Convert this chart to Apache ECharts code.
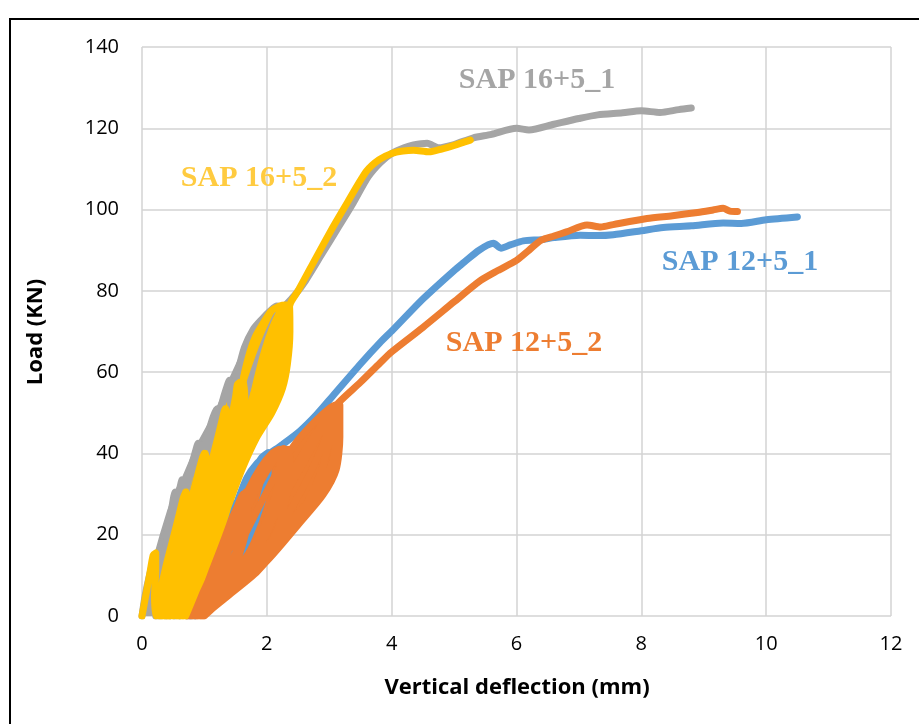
<!DOCTYPE html>
<html><head><meta charset="utf-8">
<script src="https://cdn.jsdelivr.net/npm/echarts@6/dist/echarts.min.js"></script>
<style>html,body{margin:0;padding:0;background:#fff}#c{width:919px;height:724px}</style>
</head><body><div id="c"></div><script>
// Axis ticks
const xTicks = [0, 2, 4, 6, 8, 10, 12];
const yTicks = [0, 20, 40, 60, 80, 100, 120, 140];
const xTitle = 'Vertical deflection (mm)';
const yTitle = 'Load (KN)';
const seriesNames = ['SAP 12+5_1', 'SAP 12+5_2', 'SAP 16+5_1', 'SAP 16+5_2'];

// SAP 12+5_1 (deflection mm, load kN)
const sap12_1 = [
 [0.72,0],[0.88,6],[1.02,11],[1.18,17],[1.34,23],[1.48,27.5],[1.52,28],[1.5,22],[1.4,15],[1.2,7],[0.9,1],[0.78,0],
 [0.98,8],[1.18,15],[1.38,22],[1.52,27],[1.66,32],[1.8,36],[1.92,39],[2.02,40.2],[2.02,35],[1.92,28],[1.7,19],[1.3,7],[0.85,0],
 [1.05,8],[1.28,17],[1.5,27],[1.68,34],[1.84,37.5],[2.0,39.5],[2.25,42.2],[2.53,45.5],[2.8,49.6],[3.06,54.2],
 [3.5,62],[3.81,67.2],[4.02,70.4],[4.5,78],[5.0,85],[5.15,86.9],[5.4,90],[5.63,91.7],[5.75,90.5],[5.9,91.3],[6.11,92.3],
 [6.4,92.6],[6.6,93.1],[7.02,93.7],[7.3,93.6],[7.55,93.8],[8.0,94.8],[8.35,95.6],[8.8,96],[9.31,96.7],[9.6,96.6],[10.0,97.5],[10.5,98.2]
];

// SAP 12+5_2
const sap12_2 = [
 [0.72,0],[0.9,6],[1.08,12],[1.22,17],[1.3,20],[1.32,15],[1.22,9],[1.0,3],[0.76,0],
 [0.95,7],[1.15,14],[1.35,21],[1.5,26],[1.62,30],[1.64,25],[1.55,18],[1.35,10],[1.05,3],[0.8,0],
 [1.0,7],[1.2,14],[1.4,21],[1.56,27],[1.66,30.5],[1.7,25],[1.62,18],[1.42,10],[1.1,3],[0.82,0],
 [1.05,8],[1.28,16],[1.5,24],[1.7,31],[1.9,36.5],[2.08,40],[2.2,41],[2.22,36],[2.12,29],[1.92,21],[1.6,12],[1.22,4],[0.86,0],
 [1.1,8],[1.35,16.5],[1.58,25],[1.8,32],[2.0,37.5],[2.15,40.3],[2.27,41.2],[2.3,36],[2.22,29],[2.02,21],[1.68,12],[1.28,4.5],[0.88,0],
 [1.12,8],[1.4,16.5],[1.66,25.5],[1.9,33],[2.1,38],[2.25,40.5],[2.34,41],[2.38,35.5],[2.3,28.5],[2.15,20.5],[1.78,12],[1.34,4.8],[0.9,0],
 [1.22,8],[1.55,17],[1.88,27],[2.2,36.5],[2.5,43.3],[2.8,48.3],[3.02,51.3],[3.1,52],[3.12,45],[3.05,38],[2.82,31],[2.45,24.5],[2.05,17],[1.62,10],[1.22,4],[0.93,0],
 [1.25,6],[1.6,13],[1.98,22],[2.3,30],[2.58,37.5],[2.83,44.5],[3.03,50],[3.13,52],[3.15,44.5],[3.08,37],[2.88,30.5],[2.55,24],[2.2,17.5],[1.75,10.5],[1.3,4.2],[0.96,0],
 [1.3,5],[1.7,11],[2.1,19],[2.45,28],[2.72,36],[2.92,43],[3.06,49],[3.15,52.2],[3.16,45],[3.1,37.5],[2.92,31],[2.6,25],[2.25,18.5],[1.85,12],[1.4,5.5],[0.98,0],
 [1.38,5],[1.85,11],[2.3,19.5],[2.65,28],[2.88,36],[3.02,44],[3.12,50.5],[3.17,52],[3.17,44],[3.11,36],[2.9,29.8],[2.56,23.5],[2.0,13.5],[1.46,6.4],[1.0,0],
 [1.42,8],[1.8,17.5],[2.15,27.5],[2.45,36.5],[2.7,43],[2.95,48.5],[3.15,52.5],[3.5,57.5],[3.81,62.2],[4.0,65],[4.5,71],[5.0,77.3],
 [5.42,82.5],[5.7,85],[6.0,87.5],[6.2,90],[6.4,92.5],[6.6,93.5],[6.8,94.5],[7.13,96.2],[7.35,95.7],[7.55,96.3],[8.09,97.8],
 [8.5,98.5],[8.9,99.3],[9.15,99.9],[9.31,100.3],[9.42,99.6],[9.54,99.5]
];

// SAP 16+5_1
const sap16_1 = [
 [0,0],[0.05,5],[0.12,10],[0.2,14.5],[0.24,15.5],[0.25,11],[0.24,5],[0.22,0],
 [0.26,5],[0.33,12],[0.4,19],[0.46,25],[0.51,29.5],[0.53,30.5],[0.55,25],[0.5,17],[0.4,8],[0.3,2],[0.26,0],
 [0.3,5],[0.38,12],[0.46,19],[0.54,26],[0.6,31],[0.64,33.5],[0.66,28],[0.6,20],[0.5,11],[0.36,3],[0.3,0],
 [0.36,5],[0.46,12],[0.56,20],[0.66,28],[0.74,33.5],[0.82,38.5],[0.9,42.5],[0.92,36],[0.86,27],[0.74,17],[0.56,7],[0.38,0],
 [0.46,6],[0.58,14],[0.7,23],[0.82,31],[0.94,38.5],[1.06,45],[1.14,49],[1.2,51],[1.22,44],[1.15,35],[1.02,25],[0.82,14],[0.6,5],[0.45,0],
 [0.54,6],[0.68,15],[0.82,24],[0.96,33],[1.1,42],[1.24,50],[1.32,54.5],[1.4,58],[1.42,51],[1.36,42],[1.22,31],[1.02,19],[0.78,8],[0.52,0],
 [0.7,8],[0.86,17],[1.02,26],[1.18,35],[1.32,44],[1.42,52],[1.52,59],[1.64,66],[1.78,70.5],[1.92,73],[2.05,75],[2.16,76.3],[2.22,76],
 [2.24,70],[2.16,62],[2.0,54],[1.78,45],[1.52,35],[1.22,23],[0.92,11],[0.7,3],[0.6,0],
 [0.8,8],[0.98,17],[1.16,27],[1.34,37],[1.52,47],[1.7,56],[1.88,64],[2.05,70.5],[2.2,75],[2.3,76.5],[2.45,79],[2.62,82.5],
 [2.88,89],[3.12,95],[3.38,101.5],[3.62,108],[3.82,111.6],[4.0,113.8],[4.2,115.2],[4.35,115.9],[4.57,116.3],[4.75,115.2],
 [5.0,116],[5.3,117.6],[5.6,118.5],[6.0,120],[6.2,119.6],[6.6,121],[7.0,122.4],[7.3,123.3],[7.7,123.8],[8.0,124.3],[8.3,123.9],[8.6,124.6],[8.8,125]
];

// SAP 16+5_2
const sap16_2 = [
 [0,0],[0.06,5],[0.12,10],[0.18,15],[0.22,15.5],[0.22,11],[0.2,5],[0.22,0],
 [0.28,5],[0.38,12],[0.48,18],[0.58,24],[0.66,29],[0.7,30.5],[0.7,25],[0.64,18],[0.52,10],[0.38,3],[0.28,0],
 [0.36,5],[0.46,12],[0.56,18.5],[0.66,25],[0.72,30.5],[0.74,24],[0.68,17],[0.56,9],[0.42,3],[0.32,0],
 [0.42,6],[0.54,13],[0.66,20],[0.78,28],[0.88,34],[0.97,39],[1.0,40],[1.0,34],[0.94,26],[0.82,17],[0.64,8],[0.46,2],[0.36,0],
 [0.48,6],[0.62,14],[0.75,22],[0.86,29],[0.96,35],[1.03,40],[1.05,33],[1.0,25],[0.88,16],[0.7,7],[0.5,2],[0.4,0],
 [0.54,6],[0.7,14],[0.85,22],[0.98,30],[1.1,37],[1.2,43],[1.28,48],[1.33,51],[1.34,44],[1.28,36],[1.15,26],[0.96,15],[0.74,6],[0.5,1],[0.44,0],
 [0.6,6],[0.78,15],[0.94,23],[1.08,31],[1.2,39],[1.3,46],[1.36,51],[1.38,43],[1.33,35],[1.22,26],[1.04,15],[0.8,6],[0.5,0],
 [0.66,6],[0.84,14],[1.0,22],[1.15,31],[1.3,40],[1.42,48],[1.5,54],[1.53,57],[1.57,57.5],[1.6,52],[1.56,45],[1.45,35],[1.28,25],[1.06,15],[0.82,6],[0.56,0],
 [0.72,6],[0.9,14],[1.08,23],[1.24,32],[1.38,41],[1.5,49],[1.58,55],[1.62,58],[1.65,52],[1.62,44],[1.52,35],[1.34,25],[1.1,15],[0.86,6],[0.6,0],
 [0.78,6],[0.96,15],[1.12,24],[1.28,33],[1.44,42],[1.56,50],[1.62,58],[1.71,64],[1.81,68.5],[1.94,72],[2.07,75],[2.2,76.2],[2.3,76.5],
 [2.32,70],[2.24,62],[2.08,55],[1.86,47],[1.62,38],[1.38,29],[1.12,19],[0.92,10],[0.76,4],[0.64,0],
 [0.8,6],[1.0,15],[1.18,24],[1.36,33],[1.54,42],[1.72,50],[1.84,58],[1.96,65],[2.08,70.5],[2.18,74],[2.26,76],[2.32,76.5],
 [2.34,70],[2.28,62],[2.14,55],[1.94,49],[1.7,40],[1.44,30],[1.18,19],[0.95,9],[0.66,0],
 [0.82,6],[1.04,15],[1.24,24],[1.44,33],[1.64,42],[1.84,51],[2.0,60],[2.14,67],[2.24,73],[2.32,76],[2.36,76.3],
 [2.37,70],[2.33,62],[2.25,56],[2.08,50],[1.84,44],[1.6,36],[1.38,27],[1.16,18],[0.94,9],[0.7,0],
 [0.84,6],[1.02,15],[1.22,24],[1.44,33],[1.66,42],[1.9,51],[2.08,59],[2.2,66],[2.3,72],[2.38,77],[2.5,80],[2.8,88.5],
 [3.06,95.7],[3.3,102],[3.6,109.5],[3.8,112.3],[4.0,113.8],[4.18,114.4],[4.35,114.6],[4.6,114.2],[4.8,114.9],[5.0,115.8],[5.26,117.1]
];

// Outlines of the regions swept by the dense loading/unloading cycles
const sap12_2_cycles = [
 [0.72,0],[1.0,8],[1.25,16],[1.45,23.5],[1.62,29],[1.8,33.5],[1.98,38],[2.12,40.5],[2.22,41],[2.34,41],[2.5,43.3],
 [2.8,48.3],[3.02,51.3],[3.15,52.2],[3.17,51.5],[3.17,44],[3.11,36],[2.9,29.8],[2.56,23.5],[2.0,13.5],[1.46,6.4],[1.0,0]
];
const sap16_1_cycles = [
 [0,0],[0.05,5],[0.12,10],[0.2,14.5],[0.3,20],[0.42,26],[0.53,30.5],[0.64,33.5],[0.78,38.5],[0.9,42.5],[1.06,47],
 [1.2,51],[1.3,54.5],[1.4,58],[1.52,62],[1.64,66],[1.78,70.5],[1.92,73],[2.05,75],[2.16,76.3],[2.22,76],
 [2.2,70],[2.0,60],[1.6,45],[1.2,30],[0.9,18],[0.6,5],[0.45,0]
];
const sap16_2_cycles = [
 [0.22,0],[0.32,6],[0.46,17],[0.6,26],[0.7,30.5],[0.86,35],[0.98,39.5],[1.15,45],[1.33,51],[1.45,55],[1.53,57.5],
 [1.63,61],[1.72,65],[1.82,69],[1.95,72.5],[2.07,75],[2.2,76.2],[2.32,76.5],[2.38,76],[2.37,70],[2.33,62],[2.25,56],
 [2.08,50],[1.84,44],[1.6,36],[1.38,27],[1.16,18],[0.94,9],[0.7,0]
];

const seriesData = [sap12_1, sap12_2, sap16_1, sap16_2];
const cycleAreas = [null, sap12_2_cycles, sap16_1_cycles, sap16_2_cycles];
const seriesColors = ['#5B9BD5', '#ED7D31', '#A5A5A5', '#FFC000'];
const labelColors = ['#5B9BD5', '#ED7D31', '#A5A5A5', '#FFCB40'];
const labelPos = [[740, 262], [524, 343], [537, 80], [259, 178]];

const chart = echarts.init(document.getElementById('c'), null, {renderer: 'canvas'});
const gridColor = '#D3D3D3';
const tickFont = {fontFamily: 'Open Sans', fontSize: 20, color: '#000'};

const series = [];
seriesData.forEach((d, i) => {
  const area = cycleAreas[i];
  if (area) {
    series.push({
      name: seriesNames[i] + ' cycles', type: 'custom', data: [0], z: 2, clip: true, silent: true,
      renderItem: (params, api) => ({
        type: 'polygon',
        shape: {points: area.map(p => api.coord(p))},
        style: {fill: seriesColors[i], stroke: seriesColors[i], lineWidth: 2}
      })
    });
  }
  series.push({
    name: seriesNames[i], type: 'line', data: d, showSymbol: false, symbol: 'none', smooth: 0.25,
    lineStyle: {color: seriesColors[i], width: 7, cap: 'round', join: 'round'},
    itemStyle: {color: seriesColors[i]}, z: 2
  });
});

const option = {
  animation: false,
  backgroundColor: '#fff',
  grid: {left: 142, right: 28, top: 47, bottom: 108},
  xAxis: {
    type: 'value', min: xTicks[0], max: xTicks[xTicks.length - 1], interval: xTicks[1] - xTicks[0],
    axisLine: {show: false}, axisTick: {show: false},
    axisLabel: Object.assign({margin: 18}, tickFont),
    splitLine: {show: true, lineStyle: {color: gridColor, width: 1.5}}
  },
  yAxis: {
    type: 'value', min: yTicks[0], max: yTicks[yTicks.length - 1], interval: yTicks[1] - yTicks[0],
    axisLine: {show: false}, axisTick: {show: false},
    axisLabel: Object.assign({margin: 23}, tickFont),
    splitLine: {show: true, lineStyle: {color: gridColor, width: 1.5}}
  },
  series: series,
  graphic: [
    {type: 'text', x: 517, y: 688, silent: true,
     style: {text: xTitle, font: 'bold 22px "Open Sans"', fill: '#000', textAlign: 'center', textVerticalAlign: 'middle'}},
    {type: 'text', x: 36, y: 332, rotation: Math.PI / 2, silent: true,
     style: {text: yTitle, font: 'bold 22px "Open Sans"', fill: '#000', textAlign: 'center', textVerticalAlign: 'middle'}},
    {type: 'rect', silent: true, z: 100, shape: {x: 10, y: 19, width: 1000, height: 800},
     style: {fill: 'none', stroke: '#000', lineWidth: 2}}
  ].concat(seriesNames.map((n, i) => ({
    type: 'text', x: labelPos[i][0], y: labelPos[i][1], silent: true, z: 50,
    style: {text: n, font: 'bold 30px "Liberation Serif"', fill: labelColors[i], textAlign: 'center', textVerticalAlign: 'middle'}
  })))
};
chart.setOption(option);
</script></body></html>
